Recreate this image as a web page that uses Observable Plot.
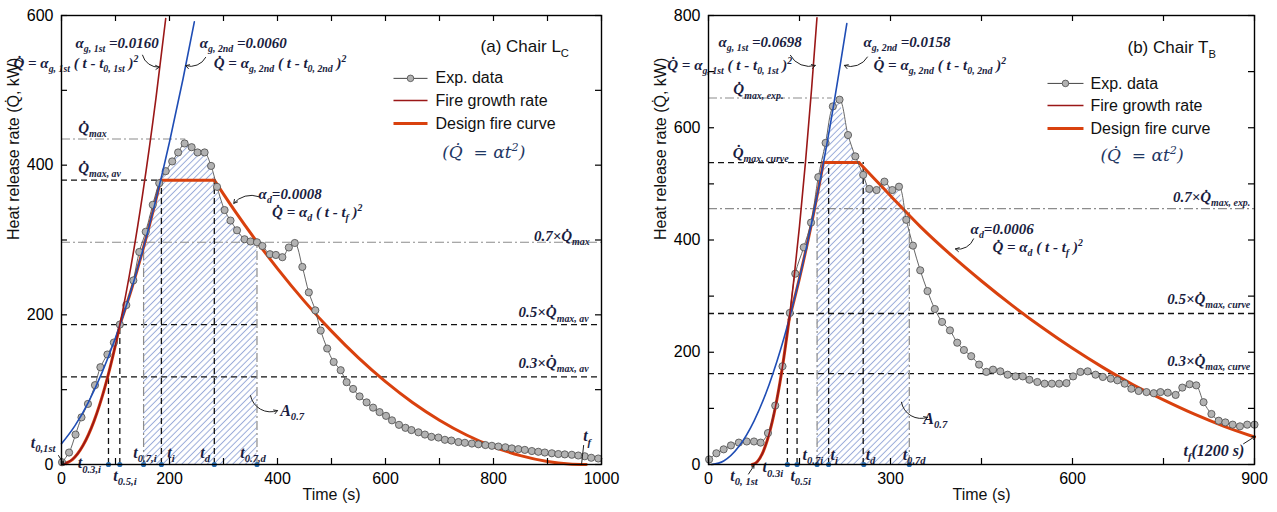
<!DOCTYPE html>
<html><head><meta charset="utf-8">
<script src="https://cdn.jsdelivr.net/npm/d3@7"></script>
<script src="https://cdn.jsdelivr.net/npm/@observablehq/plot@0.6"></script>
<style>
html,body{margin:0;padding:0;background:#fff;}
#wrap{position:relative;width:1277px;height:512px;overflow:hidden;background:#fff;}
#wrap svg{position:absolute;top:0;}
</style></head><body><div id="wrap"></div>
<script>
// ================= Panel (a) Chair Lc =================
const xTicksL = [0,100,200,300,400,500,600,700,800,900,1000];
const xLabelsL = [0,200,400,600,800,1000];
const yTicksL = [0,100,200,300,400,500,600];
const yLabelsL = [0,200,400,600];
// experimental HRR [time s, kW]
const expL = [[1,3],[14,16],[26,40],[37,63],[49,81],[62,106],[72,130],[85,147],[97,163],[108,187],[120,213],[133,246],[144,284],[156,311],[169,347],[181,376],[193,392],[205,405],[216,417],[228,429],[241,424],[252,417],[265,417],[277,399],[288,371],[302,340],[313,326],[325,313],[339,301],[350,298],[362,297],[372,292],[386,281],[397,280],[409,277],[421,290],[432,296],[446,264],[458,230],[470,206],[480,179],[492,155],[504,137],[517,126],[528,110],[540,101],[552,91],[565,83],[577,76],[589,70],[601,65],[612,59],[625,53],[637,49],[648,46],[661,43],[673,40],[685,37],[698,36],[710,33],[722,32],[735,30],[747,29],[760,28],[772,27],[785,26],[797,25],[809,24],[822,23],[834,21.5],[846,20.5],[858,19.5],[871,18],[883,17],[895,16],[908,15],[920,14],[932,13.5],[945,13],[957,12],[969,11],[981,9],[994,8]];
// fire growth rate, 1st (alpha 0.0160) and 2nd (alpha 0.0060)
const growth1L = [[0,0],[25,10],[50,40],[75,90],[100,160],[125,250],[150,360],[175,490],[193,596]];
const growth2L = [[0,27.7],[25,51.9],[50,83.5],[75,122.7],[100,169.3],[125,223.5],[150,285.1],[175,354.3],[200,430.9],[225,515.1],[246,591.6]];
// design fire curve segments
const designL = [
  [[0,0],[20,6.4],[40,25.6],[60,57.6],[80,102.4],[100,160],[108,186.6]],
  [[108,186.6],[130,235.2],[150,285.1],[170,339.9],[183.7,380]],
  [[183.7,380],[283,380]],
  [[283,380],[300,361.3],[320,340],[360,299.6],[400,261.8],[450,218],[500,178.2],[550,142.5],[600,110.7],[650,82.9],[700,59.2],[750,39.4],[800,23.7],[850,11.9],[900,4.1],[940,0.8],[972,0]]
];
const hatchEdgesL = [[152,302],[362,297]];
const hDashL = [{q:380,t1:0,t2:185},{q:187,t1:0,t2:1000},{q:117,t1:0,t2:1000}];
const hDashDotL = [{q:435,t1:0,t2:230},{q:297,t1:0,t2:1000}];
const vDashL = [{t:87,q:117},{t:108,q:187},{t:185,q:380},{t:283,q:380}];
const vDashDotL = [{t:152,q:297},{t:362,q:297}];
const axisMarksL = [87,108,152,185,283,362];
const notesL = [
  {t:26,q:563,s:"α_{g, 1st} =0.0160"},
  {t:-89,q:536,s:"Q̇ = α_{g, 1st} ( t - t_{0, 1st} )^{2}"},
  {t:256,q:563,s:"α_{g, 2nd} =0.0060"},
  {t:282,q:536,s:"Q̇ = α_{g, 2nd} ( t - t_{0, 2nd} )^{2}"},
  {t:31,q:449,s:"Q̇_{max}"},
  {t:31,q:396,s:"Q̇_{max, av}"},
  {t:365,q:361,s:"α_{d}=0.0008"},
  {t:390,q:337,s:"Q̇ = α_{d} ( t - t_{f} )^{2}"}
];
const notesEndL = [
  {t:978,q:305,s:"0.7×Q̇_{max}"},
  {t:976,q:203,s:"0.5×Q̇_{max, av}"},
  {t:976,q:136,s:"0.3×Q̇_{max, av}"}
];
const tLabelsL = [
  {t:-57,q:29,s:"t_{0,1st}"},
  {t:30,q:2,s:"t_{0.3,i}"},
  {t:96,q:-15,s:"t_{0.5,i}"},
  {t:133,q:16,s:"t_{0.7,i}"},
  {t:196,q:16,s:"t_{i}"},
  {t:257,q:16,s:"t_{d}"},
  {t:331,q:16,s:"t_{0.7,d}"},
  {t:966,q:38,s:"t_{f}"},
  {t:405,q:72,s:"A_{0.7}"}
];
const arrowsL = [
  {t1:150,q1:547,t2:181,q2:531,bend:-40,head:6},
  {t1:267,q1:544,t2:230,q2:533,bend:40,head:6},
  {t1:365,q1:358,t2:319,q2:349,bend:-35,head:6},
  {t1:350,q1:92,t2:400,q2:72,bend:-50,head:6},
  {t1:-5.5,q1:12,t2:3.7,q2:1.3,bend:0,head:4}
];
const linksL = [{t1:967,q1:26,t2:963,q2:0}];
const legendRowsL = [{s:"Exp. data",q:516},{s:"Fire growth rate",q:486.4},{s:"Design fire curve",q:455.7}];
const legendPosL = {x1:614.8,x2:677.8,xm:646.3,xt:692.6};
const titleL = {t:776,q:558,s:"(a) Chair L_{C}"};
const eqL = {t:705,q:417,s:"(Q̇  = αt^{2})"};

// ================= Panel (b) Chair Tb =================
const xTicksR = [0,150,300,450,600,750,900];
const xLabelsR = [0,300,600,900];
const yTicksR = [0,100,200,300,400,500,600,700,800];
const yLabelsR = [0,200,400,600,800];
const expR = [[1,9],[13,20],[25,27],[37,34],[50,39],[63,41],[75,41],[86,39],[98,56],[110,105],[122,175],[134,270],[143,340],[157,387],[169,431],[181,512],[193,573],[205,638],[216,650],[230,587],[242,549],[255,516],[265,491],[277,489],[290,504],[303,489],[314,495],[326,436],[337,390],[349,346],[361,309],[373,277],[385,254],[398,239],[410,217],[421,204],[433,193],[446,178],[458,165],[469,169],[481,166],[493,160],[506,157],[518,157],[529,151],[542,147],[554,144],[566,144],[578,144],[590,145],[601,157],[613,165],[625,166],[638,160],[650,156],[663,153],[674,150],[686,144],[697,135],[709,131],[722,129],[734,127],[745,129],[757,128],[770,124],[781,137],[793,143],[804,141],[816,111],[829,90],[841,78],[852,75],[864,71],[876,68],[888,71],[900,71]];
const growth1R = [[72,0],[80,4.5],[90,22.6],[100,54.7],[110,100.8],[120,160.8],[130,234.8],[140,322.8],[150,424.7],[160,540.5],[170,670.4],[178.8,796]];
const growth2R = [[5,0],[25,6.3],[50,32],[75,77.4],[100,142.6],[125,227.5],[150,332.2],[175,456.6],[200,600.8],[228,785.7]];
const designR = [
  [[72,0],[80,4.5],[90,22.6],[100,54.7],[110,100.8],[120,160.8],[132.8,258]],
  [[132.8,258],[150,332.2],[170,430.1],[189.5,538]],
  [[189.5,538],[248,538]],
  [[248,538],[275,507.5],[300,479],[350,423],[400,373],[450,327],[500,284],[550,244],[600,207],[650,173],[700,142],[750,115],[800,90],[850,68],[900,49]]
];
const hatchEdgesR = [[179,499],[331,415]];
const hDashR = [{q:538,t1:0,t2:190},{q:269,t1:0,t2:900},{q:162,t1:0,t2:900}];
const hDashDotR = [{q:653,t1:0,t2:204},{q:456,t1:0,t2:900}];
const vDashR = [{t:130,q:162},{t:146,q:269},{t:198,q:538},{t:255,q:538}];
const vDashDotR = [{t:179,q:456},{t:331,q:456}];
const axisMarksR = [130,146,179,198,256,331];
const notesR = [
  {t:16.5,q:752,s:"α_{g, 1st} =0.0698"},
  {t:-68,q:712,s:"Q̇ = α_{g, 1st} ( t - t_{0, 1st} )^{2}"},
  {t:255.5,q:752,s:"α_{g, 2nd} =0.0158"},
  {t:272,q:712,s:"Q̇ = α_{g, 2nd} ( t - t_{0, 2nd} )^{2}"},
  {t:41,q:668,s:"Q̇_{max, exp.}"},
  {t:40,q:555,s:"Q̇_{max, curve}"},
  {t:432,q:420,s:"α_{d}=0.0006"},
  {t:468,q:387,s:"Q̇ = α_{d} ( t - t_{f} )^{2}"}
];
const notesEndR = [
  {t:893,q:476,s:"0.7×Q̇_{max, exp.}"},
  {t:893,q:294,s:"0.5×Q̇_{max, curve}"},
  {t:893,q:184,s:"0.3×Q̇_{max, curve}"}
];
const tLabelsR = [
  {t:36,q:-20,s:"t_{0, 1st}"},
  {t:89,q:-5,s:"t_{0.3i}"},
  {t:135,q:-20,s:"t_{0.5i}"},
  {t:155,q:18,s:"t_{0.7i}"},
  {t:201,q:18,s:"t_{i}"},
  {t:259,q:18,s:"t_{d}"},
  {t:320,q:18,s:"t_{0.7d}"},
  {t:783,q:25,s:"t_{f}(1200 s)"},
  {t:354,q:82,s:"A_{0.7}"}
];
const arrowsR = [
  {t1:135,q1:729,t2:176,q2:711,bend:-40,head:6},
  {t1:262,q1:726,t2:224,q2:711,bend:40,head:6},
  {t1:437,q1:402,t2:407,q2:384,bend:40,head:6},
  {t1:318,q1:111,t2:361,q2:84,bend:-50,head:6},
  {t1:66,q1:-17,t2:75,q2:-2,bend:0,head:4},
  {t1:882,q1:37,t2:901,q2:50,bend:0,head:5}
];
const linksR = [];
const legendRowsR = [{s:"Exp. data",q:679},{s:"Fire growth rate",q:639.6},{s:"Design fire curve",q:598.7}];
const legendPosR = {x1:558.8,x2:618.1,xm:588.4,xt:629.6};
const titleR = {t:690.6,q:743,s:"(b) Chair T_{B}"};
const eqR = {t:646,q:550.6,s:"(Q̇  = αt^{2})"};

// ================= rendering =================
const NS = "http://www.w3.org/2000/svg";
const SERIF = "'Liberation Serif','Times New Roman',serif";
const SANS = "'Liberation Sans',Arial,sans-serif";
const INK = "#1a1d40";
const RED = "#9a1717", BLUE = "#1f4db5", ORANGE = "#d9410e";

function rich(svg) {
  svg.querySelectorAll("text").forEach(el => {
    const s = el.textContent;
    if (!/[_^]\{/.test(s)) return;
    const fs = parseFloat(getComputedStyle(el).fontSize) || 15;
    el.textContent = "";
    let shift = 0;
    const add = (txt, kind) => {
      const ts = document.createElementNS(NS, "tspan");
      const target = kind === "sub" ? fs * 0.28 : kind === "sup" ? -fs * 0.4 : 0;
      if (target - shift !== 0) ts.setAttribute("dy", (target - shift).toFixed(2));
      shift = target;
      if (kind) ts.setAttribute("font-size", (fs * 0.66).toFixed(1));
      ts.textContent = txt;
      el.appendChild(ts);
    };
    const re = /([_^])\{([^}]*)\}/g;
    let last = 0, m;
    while ((m = re.exec(s))) {
      if (m.index > last) add(s.slice(last, m.index), null);
      add(m[2], m[1] === "_" ? "sub" : "sup");
      last = re.lastIndex;
    }
    if (last < s.length) add(s.slice(last), null);
  });
}

function panel(p) {
  const pts = a => a.map(([t, q]) => ({t, q}));
  const exp = pts(p.exp);
  const [e0, e1] = p.hatchEdges;
  const hatch = pts([e0, ...p.exp.filter(([t]) => t > e0[0] && t < e1[0]), e1]);
  const design = p.design.flatMap((seg, i) => seg.map(([t, q]) => ({t, q, z: i})));
  const H = 512, mt = 15, mb = 48;
  const plotH = H - mt - mb, plotW = p.width - p.ml - p.mr;
  const sbi = {fontFamily: SERIF, fontWeight: "bold", fontStyle: "italic", fill: INK};
  const dashBlack = {stroke: "#111", strokeWidth: 1.3, strokeDasharray: "6,4"};
  const dashGray = {stroke: "#8c8c8c", strokeWidth: 1.2, strokeDasharray: "9,3,2,3"};
  const L = p.legendPos;
  const svg = Plot.plot({
    width: p.width, height: H,
    marginLeft: p.ml, marginRight: p.mr, marginTop: mt, marginBottom: mb,
    x: {domain: p.xDomain}, y: {domain: p.yDomain},
    style: {fontFamily: SANS, fontSize: "16px", color: "#000", background: "transparent", overflow: "visible"},
    marks: [
      Plot.areaY(hatch, {x: "t", y: "q", fill: `url(#hatch-${p.id})`}),
      Plot.ruleY(p.hDash, {y: "q", x1: "t1", x2: "t2", ...dashBlack}),
      Plot.ruleY(p.hDashDot, {y: "q", x1: "t1", x2: "t2", ...dashGray}),
      Plot.ruleX(p.vDash, {x: "t", y1: () => 0, y2: "q", ...dashBlack}),
      Plot.ruleX(p.vDashDot, {x: "t", y1: () => 0, y2: "q", ...dashGray}),
      Plot.line(design, {x: "t", y: "q", z: "z", stroke: ORANGE, strokeWidth: 3, curve: "monotone-x"}),
      Plot.line(exp, {x: "t", y: "q", stroke: "#555", strokeWidth: 0.9, curve: "catmull-rom"}),
      Plot.dot(exp, {x: "t", y: "q", r: 3.6, fill: "#b2b2b2", stroke: "#4a4a4a", strokeWidth: 0.8}),
      Plot.line(pts(p.growth2), {x: "t", y: "q", stroke: BLUE, strokeWidth: 1.6, curve: "monotone-x"}),
      Plot.line(pts(p.growth1), {x: "t", y: "q", stroke: RED, strokeWidth: 1.6, curve: "monotone-x"}),
      Plot.dot(p.axisMarks, {x: d => d, y: () => 0, r: 2.6, fill: "#2a70b5"}),
      ...p.arrows.map(a => Plot.arrow([a], {x1: "t1", y1: "q1", x2: "t2", y2: "q2", bend: a.bend, headLength: a.head, stroke: "#222", strokeWidth: 1})),
      Plot.link(p.links, {x1: "t1", y1: "q1", x2: "t2", y2: "q2", stroke: "#222", strokeWidth: 1}),
      Plot.text(p.notes, {x: "t", y: "q", text: "s", textAnchor: "start", fontSize: 15, ...sbi}),
      Plot.text(p.notesEnd, {x: "t", y: "q", text: "s", textAnchor: "end", fontSize: 15, ...sbi}),
      Plot.text(p.tLabels, {x: "t", y: "q", text: "s", textAnchor: "start", fontSize: 16, ...sbi}),
      // legend
      Plot.link([p.legendRows[0]], {x1: () => L.x1, x2: () => L.x2, y1: "q", y2: "q", stroke: "#444", strokeWidth: 1}),
      Plot.dot([p.legendRows[0]], {x: () => L.xm, y: "q", r: 3.3, fill: "#b2b2b2", stroke: "#4a4a4a", strokeWidth: 0.8}),
      Plot.link([p.legendRows[1]], {x1: () => L.x1, x2: () => L.x2, y1: "q", y2: "q", stroke: RED, strokeWidth: 1.6}),
      Plot.link([p.legendRows[2]], {x1: () => L.x1, x2: () => L.x2, y1: "q", y2: "q", stroke: ORANGE, strokeWidth: 3}),
      Plot.text(p.legendRows, {x: () => L.xt, y: "q", text: "s", textAnchor: "start", fontSize: 16, fontFamily: SANS, fill: "#111"}),
      Plot.text([p.title], {x: "t", y: "q", text: "s", textAnchor: "start", fontSize: 17, fontFamily: SANS, fill: "#111"}),
      Plot.text([p.eq], {x: "t", y: "q", text: "s", textAnchor: "start", fontSize: 17, fontFamily: "'DejaVu Serif',serif", fontStyle: "italic", fill: "#1f3864"}),
      // axis titles
      Plot.text(["Heat release rate (Q̇, kW)"], {text: d => d, frameAnchor: "left", rotate: -90, dx: -48, fontSize: 16, fill: "#111"}),
      Plot.text(["Time (s)"], {text: d => d, frameAnchor: "bottom", dy: 35, fontSize: 16, fill: "#111"}),
      // axes
      Plot.axisX({ticks: p.xLabels, tickSize: 0, tickPadding: 8, label: null, tickFormat: d => String(d), fontSize: 16}),
      Plot.axisY({ticks: p.yLabels, tickSize: 0, tickPadding: 8, label: null, tickFormat: d => String(d), fontSize: 16}),
      Plot.tickX(p.xTicks, {x: d => d, insetTop: plotH - 6, stroke: "#000", strokeWidth: 1.2}),
      Plot.tickX(p.xTicks, {x: d => d, insetBottom: plotH - 6, stroke: "#000", strokeWidth: 1.2}),
      Plot.tickY(p.yTicks, {y: d => d, insetRight: plotW - 6, stroke: "#000", strokeWidth: 1.2}),
      Plot.tickY(p.yTicks, {y: d => d, insetLeft: plotW - 6, stroke: "#000", strokeWidth: 1.2}),
      Plot.frame({stroke: "#000", strokeWidth: 1.4})
    ]
  });
  const defs = document.createElementNS(NS, "defs");
  defs.innerHTML = `<pattern id="hatch-${p.id}" patternUnits="userSpaceOnUse" width="4.5" height="4.5" patternTransform="rotate(45)"><line x1="2.25" y1="0" x2="2.25" y2="4.5" stroke="#9aabd9" stroke-width="1"/></pattern>`;
  svg.insertBefore(defs, svg.firstChild);
  svg.style.left = p.left + "px";
  document.getElementById("wrap").appendChild(svg);
  rich(svg);
}

panel({id: "L", left: 0, width: 640, ml: 61, mr: 39, xDomain: [0, 1000], yDomain: [0, 600],
  xTicks: xTicksL, xLabels: xLabelsL, yTicks: yTicksL, yLabels: yLabelsL,
  exp: expL, growth1: growth1L, growth2: growth2L, design: designL, hatchEdges: hatchEdgesL,
  hDash: hDashL, hDashDot: hDashDotL, vDash: vDashL, vDashDot: vDashDotL, axisMarks: axisMarksL,
  notes: notesL, notesEnd: notesEndL, tLabels: tLabelsL, arrows: arrowsL, links: linksL,
  legendRows: legendRowsL, legendPos: legendPosL, title: titleL, eq: eqL});
panel({id: "R", left: 640, width: 637, ml: 68, mr: 23, xDomain: [0, 900], yDomain: [0, 800],
  xTicks: xTicksR, xLabels: xLabelsR, yTicks: yTicksR, yLabels: yLabelsR,
  exp: expR, growth1: growth1R, growth2: growth2R, design: designR, hatchEdges: hatchEdgesR,
  hDash: hDashR, hDashDot: hDashDotR, vDash: vDashR, vDashDot: vDashDotR, axisMarks: axisMarksR,
  notes: notesR, notesEnd: notesEndR, tLabels: tLabelsR, arrows: arrowsR, links: linksR,
  legendRows: legendRowsR, legendPos: legendPosR, title: titleR, eq: eqR});
</script></body></html>
